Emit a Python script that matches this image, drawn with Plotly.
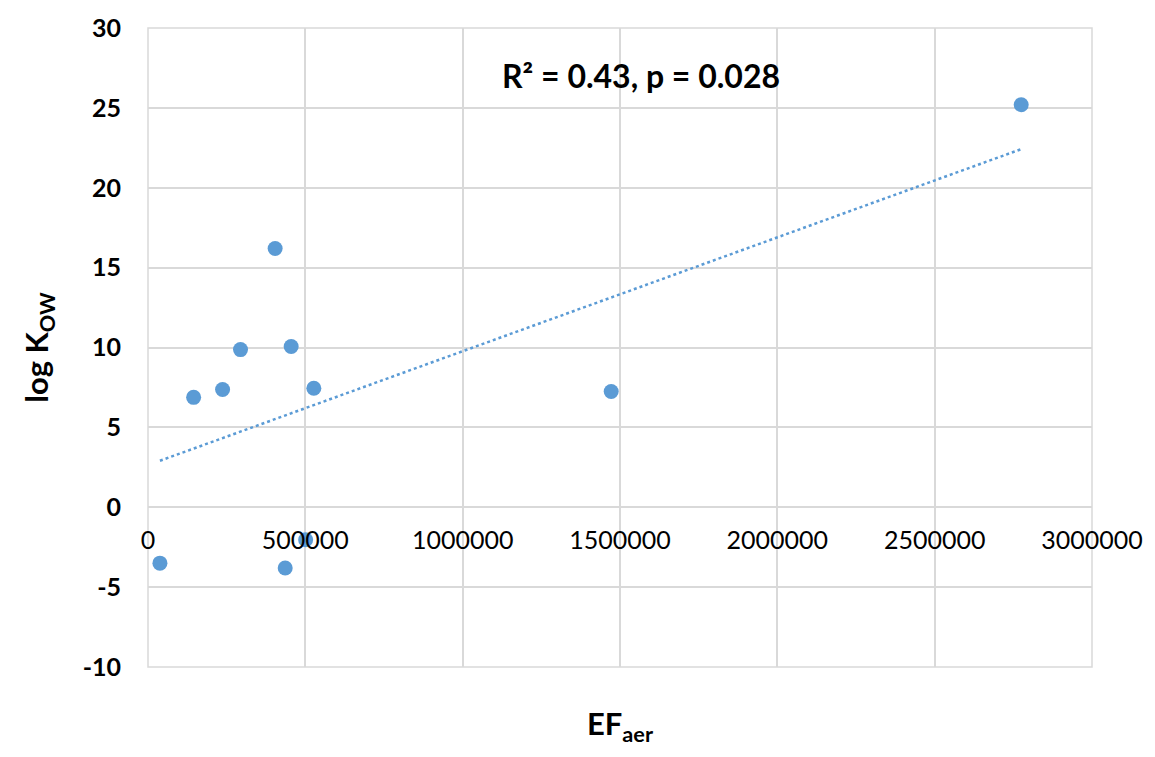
import numpy as np
import plotly.graph_objects as go

# Data
ef_aer = [37900, 145000, 237000, 294000, 404000, 455000, 436000, 501000, 527000, 1472000, 2775000]
log_kow = [-3.5, 6.88, 7.37, 9.87, 16.2, 10.06, -3.8, -2.03, 7.45, 7.25, 25.2]
y_tick_vals = [-10, -5, 0, 5, 10, 15, 20, 25, 30]
y_tick_text = ["-10", "-5", "0", "5", "10", "15", "20", "25", "30"]
annotation_text = "R² = 0.43, p = 0.028"

x = np.array(ef_aer, dtype=float)
y = np.array(log_kow, dtype=float)
slope, intercept = np.polyfit(x, y, 1)
x_fit = np.array([x.min(), x.max()])
y_fit = slope * x_fit + intercept

BLUE = "#5B9BD5"
GRID = "#D9D9D9"
FONT = "Lato"

fig = go.Figure()
fig.add_trace(go.Scatter(
    x=x_fit, y=y_fit, mode="lines",
    line=dict(color=BLUE, width=2.5, dash="dot"),
    showlegend=False, hoverinfo="skip"))
fig.add_trace(go.Scatter(
    x=x, y=y, mode="markers",
    marker=dict(color=BLUE, size=15, line=dict(width=0)),
    showlegend=False))

fig.update_layout(
    width=1155, height=757,
    margin=dict(l=148, r=57, t=20, b=90),
    plot_bgcolor="white", paper_bgcolor="white",
    font=dict(family=FONT, color="#000000"),
    xaxis=dict(
        range=[0, 3000000], dtick=500000, tickformat="d",
        showgrid=True, gridcolor=GRID, gridwidth=1.5,
        zeroline=False, showline=False,
        anchor="free", position=0.25,
        ticks="", ticklabelstandoff=16,
        tickfont=dict(size=25, family=FONT, color="#000000"),
        title=dict(text="<b>EF<sub>aer</sub></b>", font=dict(size=31, family=FONT, color="#000000"),
                   standoff=160),
    ),
    yaxis=dict(
        range=[-10, 30], tickvals=y_tick_vals, ticktext=y_tick_text,
        showgrid=True, gridcolor=GRID, gridwidth=1.5,
        zeroline=False, showline=False,
        ticks="", ticklabelstandoff=26,
        tickfont=dict(size=25, family=FONT, color="#000000", weight="bold"),
        title=dict(text="<b>log K<sub>OW</sub></b>", font=dict(size=31, family=FONT, color="#000000"),
                   standoff=24),
    ),
    annotations=[dict(
        x=0.522, y=0.925, xref="paper", yref="paper", yanchor="middle", xanchor="center",
        text="<b>" + annotation_text + "</b>", showarrow=False,
        font=dict(size=32, family=FONT, color="#000000"))],
)

fig.add_shape(type="rect", xref="paper", yref="paper", x0=0, y0=0, x1=1, y1=1,
              line=dict(color=GRID, width=1.5), layer="below")

fig.write_html("out.html")
